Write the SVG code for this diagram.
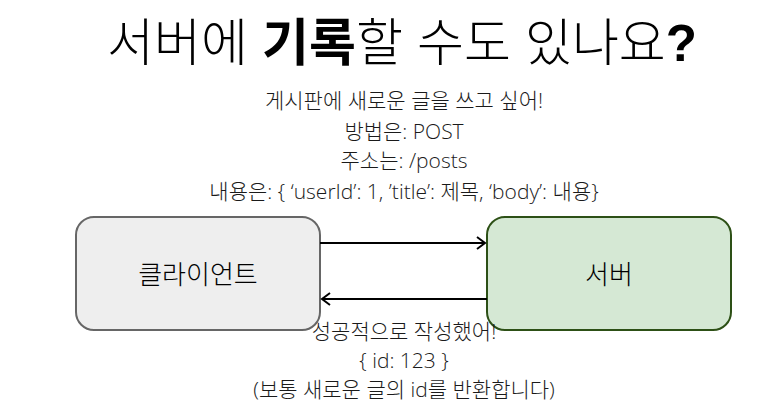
<svg xmlns="http://www.w3.org/2000/svg" width="768" height="409" viewBox="0 0 768 409">
<defs>
<style>
.t{font-family:"Open Sans","Noto Sans CJK KR",sans-serif;font-size:21px;fill:#1a1a1a;text-anchor:middle;font-weight:300}
.title{font-family:"Liberation Sans","Noto Sans CJK KR",sans-serif;font-size:51px;fill:#000;text-anchor:middle;font-weight:300}
.lbl{font-family:"Open Sans","Noto Sans CJK KR",sans-serif;font-size:26px;fill:#000;text-anchor:middle;font-weight:300}
.edge{stroke:#000;stroke-width:2;fill:none}
</style>
<marker id="open" markerWidth="12" markerHeight="16" refX="10" refY="8" orient="auto" markerUnits="userSpaceOnUse">
<path d="M2,2 L10,8 L2,14" fill="none" stroke="#000" stroke-width="2"/>
</marker>
</defs>
<rect width="768" height="409" fill="#fff"/>
<text class="title" x="402" y="61">서버에 <tspan font-weight="bold">기록</tspan>할 수도 있나요<tspan font-weight="bold">?</tspan></text>
<g id="client">
<rect x="76" y="217" width="244" height="113" rx="18" fill="#eeeeee" stroke="#666666" stroke-width="2"/>
<text class="lbl" x="198" y="284">클라이언트</text>
</g>
<g id="server">
<rect x="487" y="217" width="244" height="113" rx="18" fill="#d5e8d4" stroke="#2d5016" stroke-width="2"/>
<text class="lbl" x="609" y="284">서버</text>
</g>
<g id="connectors">
<path class="edge" d="M320,243 L485,243" marker-end="url(#open)"/>
<path class="edge" d="M487,299 L322,299" marker-end="url(#open)"/>
</g>
<g id="labels">
<text class="t" x="404" y="108">게시판에 새로운 글을 쓰고 싶어!</text>
<text class="t" x="404" y="139">방법은: POST</text>
<text class="t" x="404" y="168">주소는: /posts</text>
<text class="t" x="404" y="199">내용은: { ‘userId’: 1, ’title’: 제목, ‘body’: 내용}</text>
<text class="t" x="404" y="339">성공적으로 작성했어!</text>
<text class="t" x="404" y="368">{ id: 123 }</text>
<text class="t" x="404" y="397">(보통 새로운 글의 id를 반환합니다)</text>
</g>
</svg>
